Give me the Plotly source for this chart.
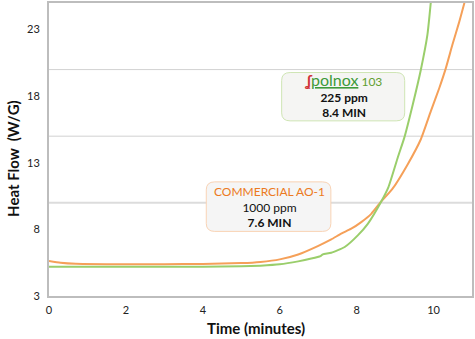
import plotly.graph_objects as go

# Data
ao1_t = [0, 0.3, 0.7, 1.5, 3, 4, 5, 5.5, 6.0, 6.48, 6.99, 7.34, 7.6, 7.86, 8.12, 8.38, 8.64, 8.92, 9.33, 9.67, 9.93, 10.15, 10.32, 10.49, 10.67, 10.81]
ao1_hf = [5.63, 5.50, 5.42, 5.39, 5.39, 5.41, 5.47, 5.56, 5.75, 6.12, 6.75, 7.25, 7.68, 8.05, 8.55, 9.17, 10.1, 11.0, 12.9, 14.77, 16.88, 18.62, 20.11, 21.86, 23.6, 25.09]

pol_t = [0, 2, 4, 5, 5.5, 6.0, 6.48, 6.82, 7.06, 7.12, 7.34, 7.69, 8.03, 8.29, 8.64, 8.83, 9.07, 9.24, 9.46, 9.67, 9.84, 9.93]
pol_hf = [5.19, 5.19, 5.2, 5.23, 5.28, 5.38, 5.6, 5.81, 6.0, 6.13, 6.25, 6.68, 7.55, 8.42, 10.1, 11.2, 13.4, 14.89, 17.38, 19.99, 22.6, 25.09]

x_ticks = [0, 2, 4, 6, 8, 10]
y_ticks = [3, 8, 13, 18, 23]
grid_levels = [10, 15, 20]

FONT = "Lato, 'Open Sans', sans-serif"
ORANGE = "#F5A059"
GREEN = "#9ACE6B"

fig = go.Figure()
fig.add_trace(go.Scatter(x=ao1_t, y=ao1_hf, mode="lines", line=dict(color=ORANGE, width=2, shape="spline", smoothing=0.5),
                         name="Commercial AO-1", showlegend=False, hoverinfo="skip"))
fig.add_trace(go.Scatter(x=pol_t, y=pol_hf, mode="lines", line=dict(color=GREEN, width=2, shape="spline", smoothing=0.5),
                         name="Polnox 103", showlegend=False, hoverinfo="skip"))

shapes = []
for g in grid_levels:
    shapes.append(dict(type="line", xref="paper", yref="y", x0=0, x1=1, y0=g, y1=g,
                       line=dict(color="#D2D2D2" if g != 10 else "#DCDCDC", width=1 if g != 10 else 2), layer="below"))


def rounded_box(x0, x1, y0, y1, rx, ry):
    return (f"M {x0+rx},{y0} L {x1-rx},{y0} Q {x1},{y0} {x1},{y0+ry} L {x1},{y1-ry} Q {x1},{y1} {x1-rx},{y1} "
            f"L {x0+rx},{y1} Q {x0},{y1} {x0},{y1-ry} L {x0},{y0+ry} Q {x0},{y0} {x0+rx},{y0} Z")


shapes.append(dict(type="path", xref="x", yref="y", path=rounded_box(6.05, 9.25, 16.15, 19.78, 0.22, 0.6),
                   fillcolor="#F5F5F3", line=dict(color="#CFE5B4", width=1), layer="above"))
shapes.append(dict(type="path", xref="x", yref="y", path=rounded_box(4.09, 7.33, 7.85, 11.57, 0.22, 0.6),
                   fillcolor="#F5F5F5", line=dict(color="#F9D3B5", width=1), layer="above"))

ann = []
ann.append(dict(x=7.64, y=18.12, xref="x", yref="y", showarrow=False, align="center",
                text="<span style='font-size:16px'><span style='color:#D0353A'><b>ʆ</b></span>"
                     "<span style='color:#3E9A3A'><u>polnox</u></span></span>"
                     "<span style='color:#5F9E2F'> 103</span><br><b>225 ppm</b><br><b>8.4 MIN</b>",
                font=dict(family=FONT, size=12, color="#111111")))
ann.append(dict(x=5.73, y=9.72, xref="x", yref="y", showarrow=False, align="center",
                text="<span style='color:#EC7A22'>COMMERCIAL AO-1</span><br>1000 ppm<br><b>7.6 MIN</b>",
                font=dict(family=FONT, size=12, color="#111111")))
# axis titles
ann.append(dict(x=-0.085, y=0.468, xref="paper", yref="paper", showarrow=False, textangle=-90,
                xanchor="center", yanchor="middle", text="<b>Heat Flow  (W/G)</b>",
                font=dict(family=FONT, size=15, color="#111111")))
ann.append(dict(x=0.49, y=-0.108, xref="paper", yref="paper", showarrow=False,
                xanchor="center", yanchor="middle", text="<b>Time (minutes)</b>",
                font=dict(family=FONT, size=15, color="#111111")))

fig.update_layout(
    width=475, height=339,
    margin=dict(l=49, r=1, t=1, b=43),
    paper_bgcolor="white", plot_bgcolor="white",
    shapes=shapes, annotations=ann, showlegend=False,
    xaxis=dict(range=[0, 11], tickvals=x_ticks, ticktext=[str(v) for v in x_ticks], showgrid=False, zeroline=False,
               showline=True, linecolor="#BDBDBD", linewidth=2, mirror=True,
               ticks="outside", ticklen=3, tickcolor="rgba(0,0,0,0)",
               tickfont=dict(family=FONT, size=11, color="#222222")),
    yaxis=dict(range=[3, 25], tickvals=y_ticks, ticktext=[str(v) for v in y_ticks], showgrid=False, zeroline=False,
               showline=True, linecolor="#BDBDBD", linewidth=2, mirror=True,
               ticks="outside", ticklen=5, tickcolor="rgba(0,0,0,0)",
               tickfont=dict(family=FONT, size=11, color="#222222")),
)

fig.write_html("out.html")
